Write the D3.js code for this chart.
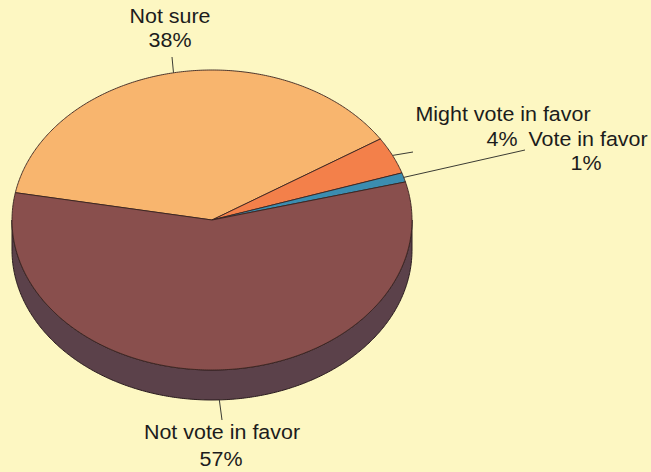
<!DOCTYPE html>
<html>
<head>
<meta charset="utf-8">
<script src="https://cdn.jsdelivr.net/npm/d3@7"></script>
<style>
  html, body { margin: 0; padding: 0; background: #fdf7c2; }
  svg { display: block; }
  text { font-family: "Liberation Sans", Arial, sans-serif; fill: #1c1c1c; }
</style>
</head>
<body>
<svg id="chart" width="651" height="472"></svg>
<script>
// ---- Data ----
const categories = ["Not sure", "Might vote in favor", "Vote in favor", "Not vote in favor"];
const values = [38, 4, 1, 57];
const percentLabels = ["38%", "4%", "1%", "57%"];

// ---- Styling / layout ----
const topColors = ["#f8b56e", "#f3804a", "#3b8db0", "#894f4d"];
const sideColors = ["#b77f4a", "#b05a33", "#2a6680", "#5b414a"];
const W = 651, H = 472;
const cx = 212, cy = 220, rx = 200, ry = 150, depth = 30;
const startDeg = 280.5; // d3 angle (clockwise from 12 o'clock) where first slice starts

// label layout: [name line, percent line]
const labelLayout = [
  { lines: [{t: "Not sure", x: 170, y: 22.5}, {t: "38%", x: 170, y: 46.5}], leaderEnd: [172, 57] },
  { lines: [{t: "Might vote in favor", x: 503, y: 121}, {t: "4%", x: 502, y: 146}], leaderEnd: [413, 152] },
  { lines: [{t: "Vote in favor", x: 588, y: 146}, {t: "1%", x: 586, y: 170}], leaderEnd: [525, 150] },
  { lines: [{t: "Not vote in favor", x: 222, y: 438.5}, {t: "57%", x: 221, y: 466}], leaderEnd: [222, 420] }
];

const svg = d3.select("#chart");
svg.append("rect").attr("width", W).attr("height", H).attr("fill", "#fdf7c2");

const s0 = startDeg * Math.PI / 180;
const pie = d3.pie().sort(null).value(d => d).startAngle(s0).endAngle(s0 + 2 * Math.PI);
const arcs = pie(values);

// ellipse point from d3 angle (clockwise from top)
const pt = (a, dy = 0) => {
  const th = a - Math.PI / 2;
  return [cx + rx * Math.cos(th), cy + ry * Math.sin(th) + dy];
};
const line = d3.line();

function sample(a0, a1, dy) {
  const n = Math.max(2, Math.ceil(Math.abs(a1 - a0) / 0.01));
  return d3.range(n + 1).map(i => pt(a0 + (a1 - a0) * i / n, dy));
}

// visible side-wall segments: screen theta in (0, PI) => d3 angle in (PI/2, 3PI/2) mod 2PI
function frontRanges(a0, a1) {
  const out = [];
  for (let k = -1; k <= 2; k++) {
    const lo = Math.PI / 2 + k * 2 * Math.PI, hi = 3 * Math.PI / 2 + k * 2 * Math.PI;
    const s = Math.max(a0, lo), e = Math.min(a1, hi);
    if (e > s) out.push([s, e]);
  }
  return out;
}

const g = svg.append("g");

// side walls
arcs.forEach((d, i) => {
  frontRanges(d.startAngle, d.endAngle).forEach(([s, e]) => {
    const topPts = sample(s, e, 0);
    const botPts = sample(e, s, depth);
    g.append("path")
      .attr("d", line(topPts.concat(botPts)) + "Z")
      .attr("fill", sideColors[i])
      .attr("stroke", "#2a1c1e")
      .attr("stroke-width", 1)
      .attr("stroke-linejoin", "round");
  });
});

// top faces
arcs.forEach((d, i) => {
  const pts = [[cx, cy]].concat(sample(d.startAngle, d.endAngle, 0));
  g.append("path")
    .attr("d", line(pts) + "Z")
    .attr("fill", topColors[i])
    .attr("stroke", "#3a2420")
    .attr("stroke-width", 0.9)
    .attr("stroke-linejoin", "round");
});

// leaders and labels
arcs.forEach((d, i) => {
  const mid = (d.startAngle + d.endAngle) / 2;
  const th = mid - Math.PI / 2;
  const p = pt(mid, Math.sin(th) > 0.6 ? depth : 0);
  const L = labelLayout[i];
  svg.append("line")
    .attr("x1", p[0]).attr("y1", p[1])
    .attr("x2", L.leaderEnd[0]).attr("y2", L.leaderEnd[1])
    .attr("stroke", "#3b3b33").attr("stroke-width", 1);
  L.lines.forEach(l => {
    svg.append("text")
      .attr("transform", `translate(${l.x},${l.y}) scale(1.1,1)`)
      .attr("text-anchor", "middle")
      .attr("font-size", 19.5)
      .text(l.t);
  });
});
</script>
</body>
</html>
